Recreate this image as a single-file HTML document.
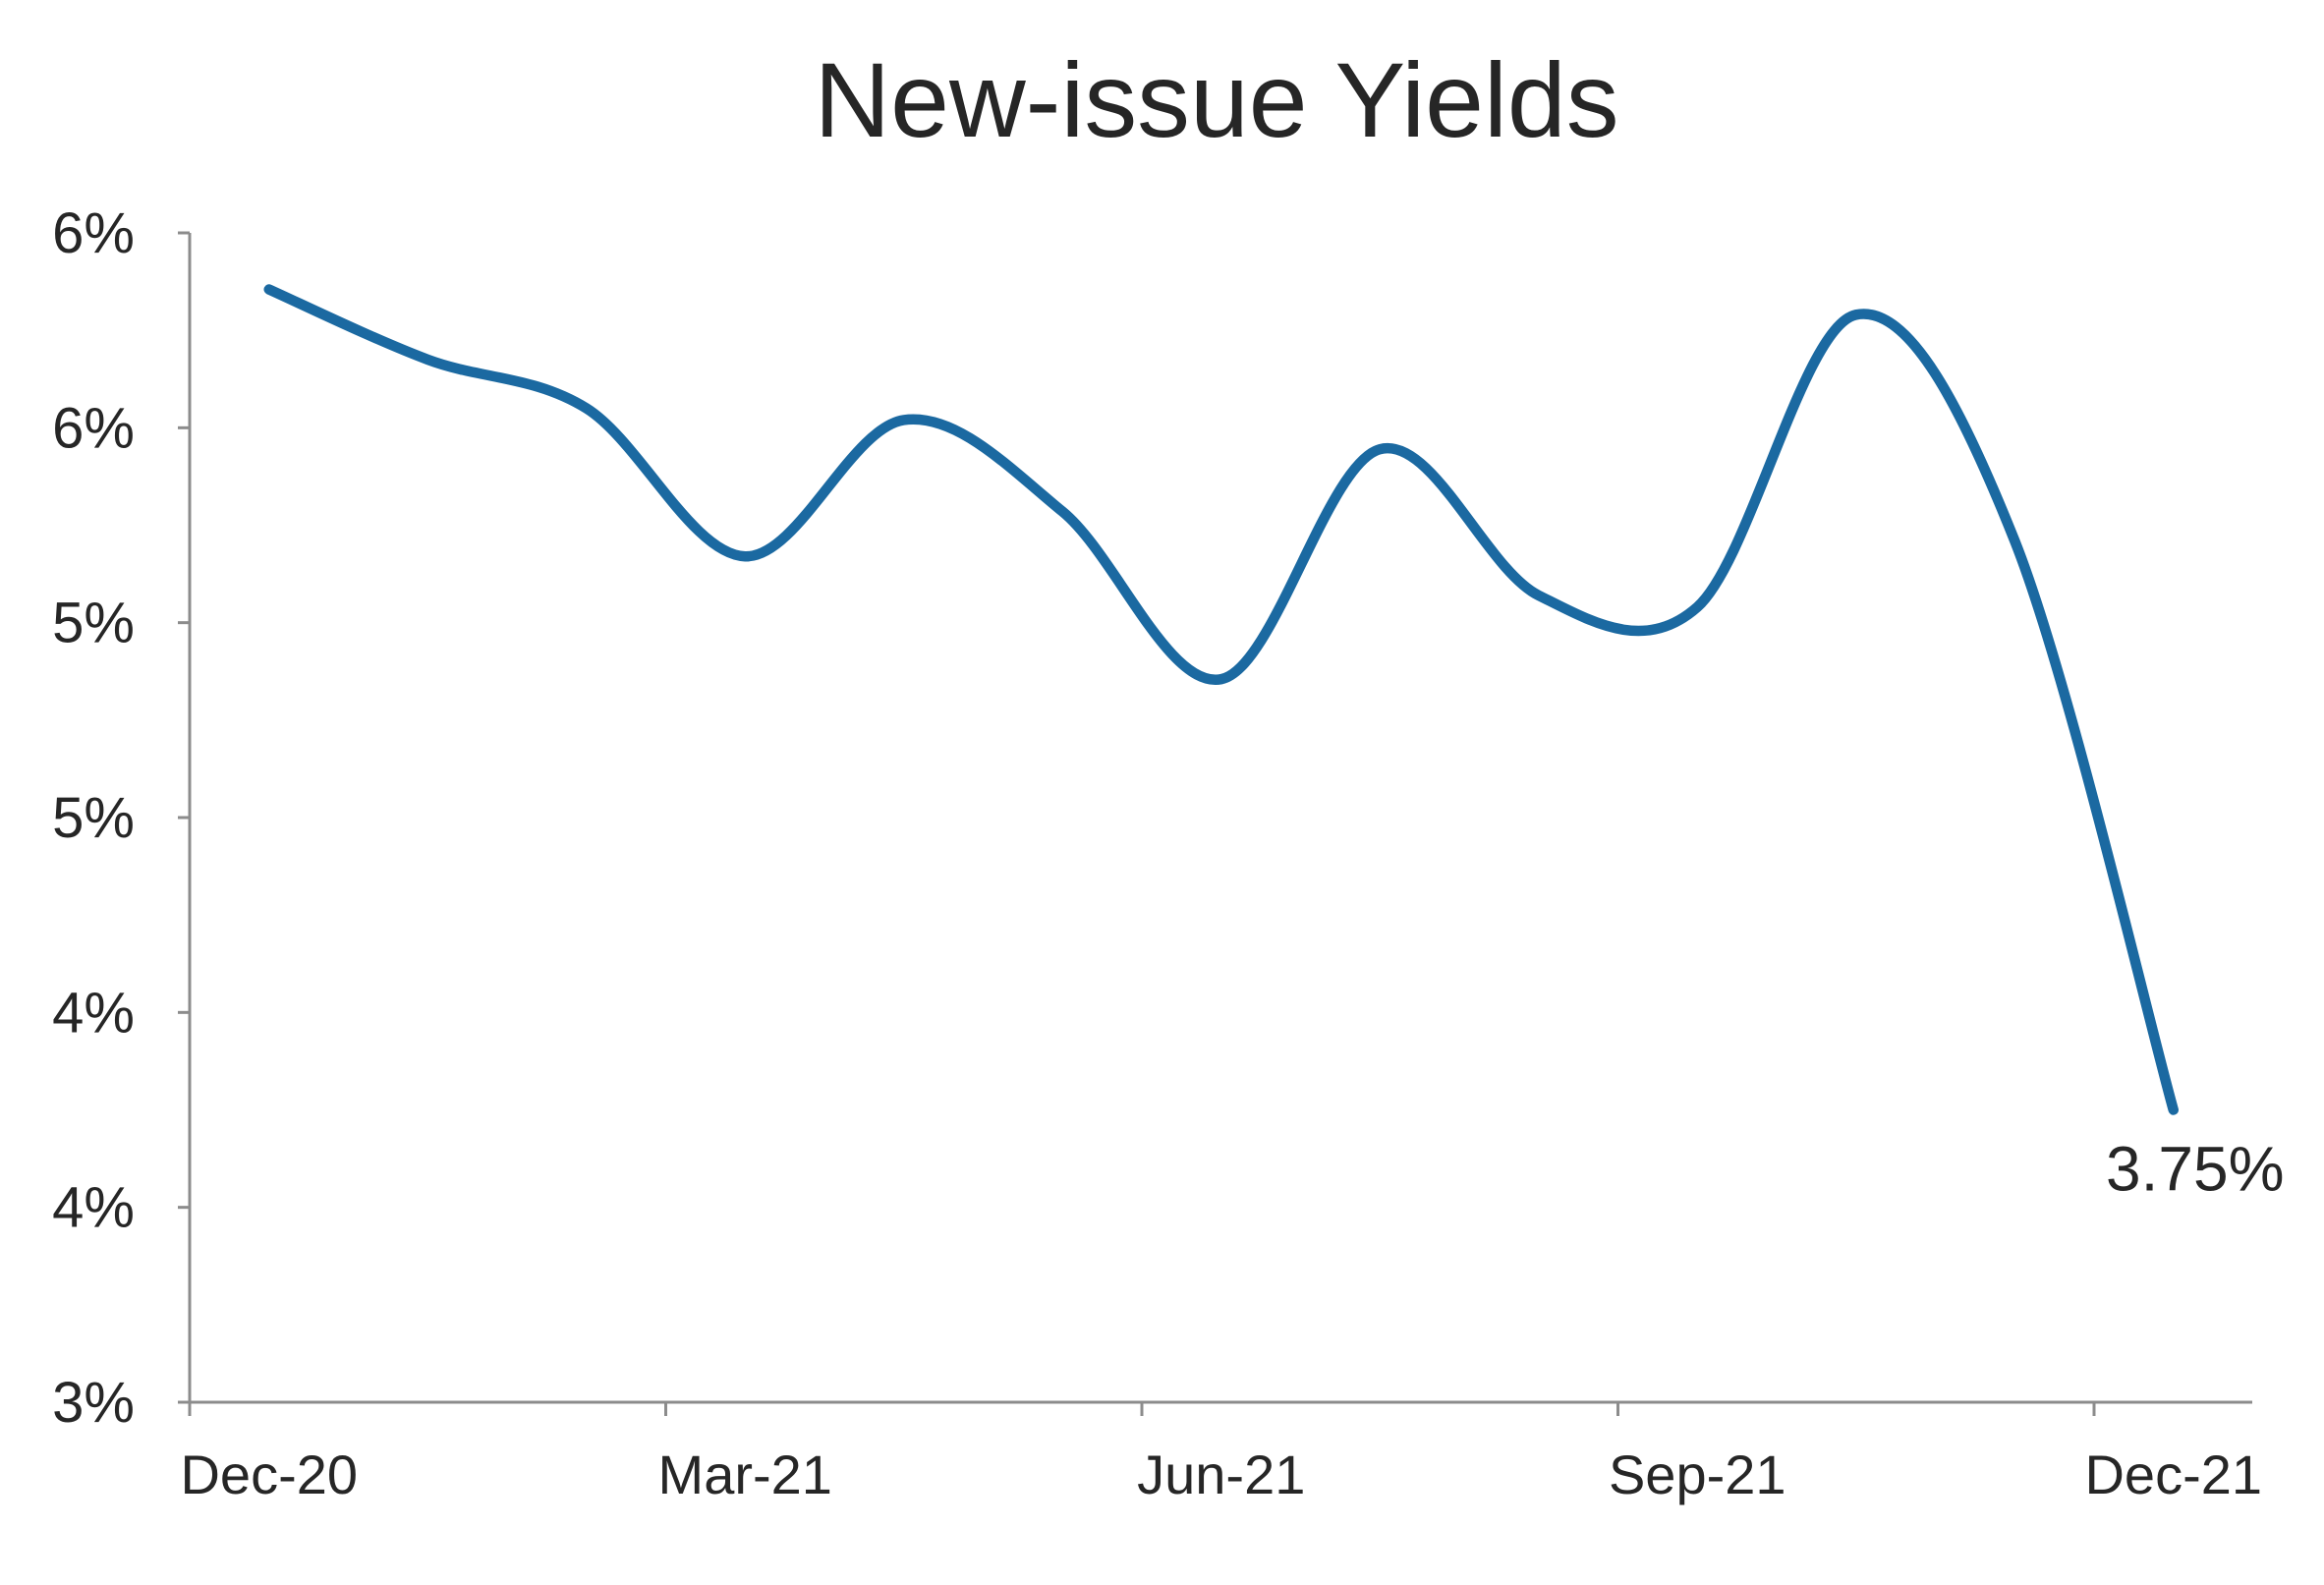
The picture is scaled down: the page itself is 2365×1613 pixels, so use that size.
<!DOCTYPE html>
<html><head><meta charset="utf-8"><style>
html,body{margin:0;padding:0;background:#fff;}
svg{display:block;font-family:"Liberation Sans",sans-serif;}
</style></head><body>
<svg id="chart" width="2365" height="1613" viewBox="0 0 2365 1613" xmlns="http://www.w3.org/2000/svg">
<text x="1238" y="139" text-anchor="middle" font-size="108" fill="#262626" textLength="819" lengthAdjust="spacingAndGlyphs">New-issue Yields</text>
<g id="axes"></g>
<g id="series"></g>
</svg>
<script>
const yTickValues = [6.0, 5.5, 5.0, 4.5, 4.0, 3.5, 3.0];
const yTickLabels = ["6%", "6%", "5%", "5%", "4%", "4%", "3%"];
const xTickLabels = ["Dec-20", "Mar-21", "Jun-21", "Sep-21", "Dec-21"];
const months = ["Dec-20","Jan-21","Feb-21","Mar-21","Apr-21","May-21","Jun-21","Jul-21","Aug-21","Sep-21","Oct-21","Nov-21","Dec-21"];
const yields = [5.855, 5.675, 5.55, 5.17, 5.52, 5.285, 4.855, 5.445, 5.07, 5.04, 5.79, 5.21, 3.75];
const endLabel = "3.75%";

const NS = "http://www.w3.org/2000/svg";
const x0 = 193, monthW = 161.5, yBottom = 1427, yTop = 237, vMin = 3, vMax = 6;
function xScale(i){ return x0 + monthW * (i + 0.5); }
function xTick(q){ return x0 + monthW * 3 * q; }
function yScale(v){ return yBottom - (v - vMin) / (vMax - vMin) * (yBottom - yTop); }
function mk(tag, attrs, parent){ const e = document.createElementNS(NS, tag); for (const k in attrs) e.setAttribute(k, attrs[k]); parent.appendChild(e); return e; }

const axes = document.getElementById('axes');
const yAxis = mk('line', {x1:x0, y1:yTop, x2:x0, y2:yBottom+14, stroke:'#8c8c8c', 'stroke-width':3}, axes);


const xAxis = mk('line', {x1:x0-12, y1:yBottom, x2:2292, y2:yBottom, stroke:'#8c8c8c', 'stroke-width':3}, axes);



yTickValues.forEach((v, i) => {
  const y = yScale(v);
  const t = mk('line', {x1:x0-12, y1:y, x2:x0, y2:y, stroke:'#8c8c8c', 'stroke-width':3}, axes);
  
  
  const l = mk('text', {x:137, y:y+20, 'text-anchor':'end', 'font-size':58, fill:'#262626'}, axes);
  l.textContent = yTickLabels[i];
  
  
});
xTickLabels.forEach((lab, q) => {
  const x = xTick(q);
  const t = mk('line', {x1:x, y1:yBottom, x2:x, y2:yBottom+14, stroke:'#8c8c8c', 'stroke-width':3}, axes);
  
  
  const l = mk('text', {x:x+monthW/2, y:1520, 'text-anchor':'middle', 'font-size':56, fill:'#262626'}, axes);
  l.textContent = lab;
  
  
});

const pts = yields.map((v, i) => [xScale(i), yScale(v)]);
let d = 'M' + pts[0][0] + ',' + pts[0][1];
for (let i = 0; i < pts.length - 1; i++) {
  const p0 = pts[Math.max(0, i-1)], p1 = pts[i], p2 = pts[i+1], p3 = pts[Math.min(pts.length-1, i+2)];
  const t = 1/6;
  const c1 = [p1[0] + (p2[0]-p0[0])*t, p1[1] + (p2[1]-p0[1])*t];
  const c2 = [p2[0] - (p3[0]-p1[0])*t, p2[1] - (p3[1]-p1[1])*t];
  d += ' C' + c1.join(',') + ' ' + c2.join(',') + ' ' + p2.join(',');
}
const series = document.getElementById('series');
const path = mk('path', {d:d, fill:'none', stroke:'#1b69a1', 'stroke-width':10.5, 'stroke-linecap':'round', 'stroke-linejoin':'round'}, series);


const last = pts[pts.length-1];
const ann = mk('text', {x:last[0]+22, y:last[1]+82, 'text-anchor':'middle', 'font-size':64, fill:'#262626'}, series);
ann.textContent = endLabel;


</script>
</body></html>
